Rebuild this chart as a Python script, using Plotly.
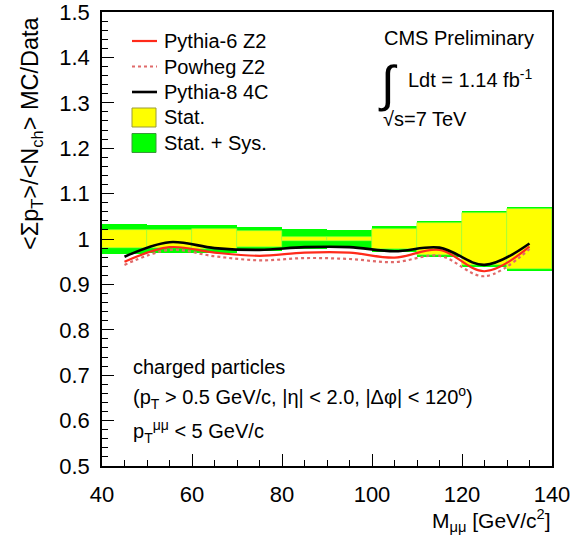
import plotly.graph_objects as go

# ---------------- data ----------------
mass_edges = [40, 50, 60, 70, 80, 90, 100, 110, 120, 130, 140]
mass_centers = [45, 55, 65, 75, 85, 95, 105, 115, 125, 135]
data_ratio = [1.0, 1.0, 1.0, 1.0, 1.0, 1.0, 1.0, 1.0, 1.0, 1.0]
stat_err = [0.020, 0.020, 0.021, 0.018, 0.005, 0.005, 0.021, 0.036, 0.058, 0.067]
total_err = [0.033, 0.030, 0.031, 0.027, 0.022, 0.019, 0.028, 0.040, 0.061, 0.070]

pythia6_z2 = [0.950, 0.982, 0.970, 0.963, 0.970, 0.970, 0.959, 0.976, 0.929, 0.983]
powheg_z2 = [0.943, 0.976, 0.962, 0.953, 0.958, 0.956, 0.949, 0.963, 0.918, 0.978]
pythia8_4c = [0.961, 0.993, 0.980, 0.976, 0.982, 0.982, 0.973, 0.981, 0.943, 0.990]

y_tickvals = [0.5, 0.6, 0.7, 0.8, 0.9, 1.0, 1.1, 1.2, 1.3, 1.4, 1.5]
y_ticktext = ["0.5", "0.6", "0.7", "0.8", "0.9", "1", "1.1", "1.2", "1.3", "1.4", "1.5"]
x_tickvals = [40, 60, 80, 100, 120, 140]
x_ticktext = ["40", "60", "80", "100", "120", "140"]

legend_labels = ["Pythia-6 Z2", "Powheg Z2", "Pythia-8 4C", "Stat.", "Stat. + Sys."]

FONT = "Liberation Sans"
C_P6 = "#ff2a1a"
C_PW = "#e06a6a"
C_P8 = "#000000"
C_STAT = "#ffff00"
C_TOT = "#00ff00"

widths = [b - a for a, b in zip(mass_edges[:-1], mass_edges[1:])]

fig = go.Figure()

# Stat + Sys band (green)
fig.add_trace(go.Bar(
    x=mass_centers, width=widths,
    base=[c - e for c, e in zip(data_ratio, total_err)],
    y=[2 * e for e in total_err],
    marker=dict(color=C_TOT, line=dict(width=0)),
    showlegend=False, hoverinfo="skip",
))
# Stat band (yellow)
fig.add_trace(go.Bar(
    x=mass_centers, width=widths,
    base=[c - e for c, e in zip(data_ratio, stat_err)],
    y=[2 * e for e in stat_err],
    marker=dict(color=C_STAT, line=dict(width=0.6, color="#9cff4a")),
    showlegend=False, hoverinfo="skip",
))

fig.add_trace(go.Scatter(
    x=mass_centers, y=pythia6_z2, mode="lines", name=legend_labels[0],
    line=dict(color=C_P6, width=2.2, shape="spline"), showlegend=False,
))
fig.add_trace(go.Scatter(
    x=mass_centers, y=powheg_z2, mode="lines", name=legend_labels[1],
    line=dict(color=C_PW, width=2.2, dash="dot", shape="spline"), showlegend=False,
))
fig.add_trace(go.Scatter(
    x=mass_centers, y=pythia8_4c, mode="lines", name=legend_labels[2],
    line=dict(color=C_P8, width=2.6, shape="spline"), showlegend=False,
))

axis_common = dict(
    showline=True, linecolor="black", linewidth=1.5, mirror=True,
    ticks="inside", ticklen=12, tickwidth=1, tickcolor="black",
    showgrid=False, zeroline=False, automargin=False, ticklabeloverflow="allow",
    tickfont=dict(family=FONT, size=22, color="black"),
)

fig.update_xaxes(
    range=[40, 140], tickmode="array", tickvals=x_tickvals, ticktext=x_ticktext,
    minor=dict(ticks="inside", ticklen=6, dtick=5, tickcolor="black", tickwidth=1),
    ticklabelstandoff=8, **axis_common,
)
fig.update_yaxes(
    range=[0.5, 1.5], tickmode="array", tickvals=y_tickvals, ticktext=y_ticktext,
    minor=dict(ticks="inside", ticklen=6, dtick=0.02, tickcolor="black", tickwidth=1),
    ticklabelstandoff=6, **axis_common,
)

# --- plot-area geometry helpers (paper fractions from pixel offsets) ---
L, T, W, H = 102, 12, 450, 454
def px(xpix):
    return (xpix - L) / W
def py(ypix):
    return (T + H - ypix) / H

ann = [
    dict(text="CMS Preliminary", x=px(382), y=py(38), xanchor="left", size=20),
    dict(text="∫", x=px(376), y=py(84), xanchor="left", size=50),
    dict(text="Ldt = 1.14 fb<sup>-1</sup>", x=px(406), y=py(78), xanchor="left", size=20),
    dict(text="√s=7 TeV", x=px(381), y=py(119), xanchor="left", size=20),
    dict(text="charged particles", x=px(131), y=py(367), xanchor="left", size=20),
    dict(text="(p<sub>T</sub> > 0.5 GeV/c, |η| < 2.0, |Δφ| < 120<sup>o</sup>)", x=px(131), y=py(397),
         xanchor="left", size=20),
    dict(text="p<sub>T</sub><sup>μμ</sup> < 5 GeV/c", x=px(131), y=py(431), xanchor="left", size=20),
    dict(text="M<sub>μμ</sub> [GeV/c<sup>2</sup>]", x=1.0, y=py(520), xanchor="right", size=21),
]
annotations = []
for a in ann:
    annotations.append(dict(
        text=a["text"], x=a["x"], y=a["y"], xref="paper", yref="paper",
        xanchor=a["xanchor"], yanchor="middle", showarrow=False,
        font=dict(family=FONT, size=a["size"], color="black"),
    ))
annotations.append(dict(
    text="&lt;Σp<sub>T</sub>&gt;/&lt;N<sub>ch</sub>&gt; MC/Data", x=px(31), y=py(14),
    xref="paper", yref="paper", xanchor="center", yanchor="top", textangle=-90,
    showarrow=False, font=dict(family=FONT, size=23.5, color="black"),
))

# --- hand-built legend (ROOT style) ---
shapes = []
leg_row0, leg_step = 41, 25.5
leg_x0, leg_x1, leg_text = 132, 157, 162
leg_styles = [
    dict(kind="line", color=C_P6, dash="solid", width=2.2),
    dict(kind="line", color=C_PW, dash="dot", width=2.2),
    dict(kind="line", color=C_P8, dash="solid", width=2.6),
    dict(kind="box", color=C_STAT, edge="#9a9a3a"),
    dict(kind="box", color=C_TOT, edge="#3a9a3a"),
]
for i, (lab, st) in enumerate(zip(legend_labels, leg_styles)):
    yc = leg_row0 + i * leg_step
    annotations.append(dict(
        text=lab, x=px(leg_text), y=py(yc), xref="paper", yref="paper",
        xanchor="left", yanchor="middle", showarrow=False,
        font=dict(family=FONT, size=20, color="black"),
    ))
    if st["kind"] == "line":
        shapes.append(dict(type="line", xref="paper", yref="paper",
                           x0=px(leg_x0), x1=px(leg_x1), y0=py(yc), y1=py(yc),
                           line=dict(color=st["color"], width=st["width"], dash=st["dash"])))
    else:
        shapes.append(dict(type="rect", xref="paper", yref="paper",
                           x0=px(leg_x0), x1=px(leg_x0 + 24), y0=py(yc - 9.5), y1=py(yc + 9.5),
                           fillcolor=st["color"], line=dict(color=st["edge"], width=1)))

fig.update_layout(
    width=584, height=538,
    margin=dict(l=L, r=584 - L - W, t=T, b=538 - T - H, autoexpand=False),
    paper_bgcolor="white", plot_bgcolor="white",
    barmode="overlay", bargap=0,
    annotations=annotations, shapes=shapes,
    showlegend=False,
)

fig.write_html(
    "out.html",
    config={"displayModeBar": False},
    post_script="document.body.style.margin='0';document.body.style.overflow='hidden';",
)
